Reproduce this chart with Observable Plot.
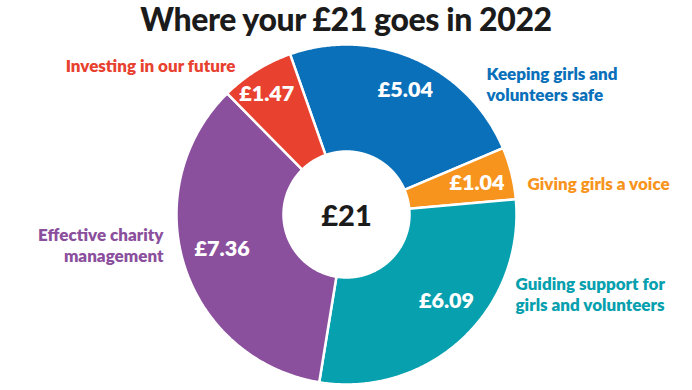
<!DOCTYPE html>
<html><head><meta charset="utf-8">
<script src="https://cdn.jsdelivr.net/npm/d3@7"></script>
<script src="https://cdn.jsdelivr.net/npm/@observablehq/plot@0.6"></script>
<style>
body{margin:0;background:#fff;font-family:Lato,"Open Sans",sans-serif;}
#title{height:38px;text-align:center;font-weight:900;font-size:32px;line-height:38px;color:#1b1b1b;letter-spacing:-0.4px;white-space:nowrap;}
#chart svg{display:block;}
</style></head><body>
<div id="title"></div>
<div id="chart"></div>
<script>
// ---- data ----
const titleText = "Where your £21 goes in 2022";
const categories = ["Keeping girls and\nvolunteers safe", "Giving girls a voice", "Guiding support for\ngirls and volunteers", "Effective charity\nmanagement", "Investing in our future"];
const values = [5.04, 1.04, 6.09, 7.36, 1.47];
const valueLabels = ["£5.04", "£1.04", "£6.09", "£7.36", "£1.47"];
const colors = ["#0a70ba", "#f7941d", "#06a0ae", "#8b509d", "#e8412f"];
const totalLabel = "£21";

// ---- layout ----
const W = 692, H = 352;
const cx = 346, cy = 176, R = 170, r0 = 63;
const startAngle = -19.4 * Math.PI / 180;
const valueRadius = [0.81, 0.79, 0.78, 0.76, 0.85];
const valueAngleShift = [1.5, 0.5, -6, 2, -1.5]; // degrees
// category label offsets relative to centre [dx, dy, anchor]
const catLayout = [[140, -131, "start"], [181, -31, "start"], [169, 79, "start"], [-183, 30, "end"], [-196, -149, "middle"]];

document.getElementById("title").textContent = titleText;

const arcs = d3.pie().sort(null).startAngle(startAngle).endAngle(startAngle + 2 * Math.PI)(values);
const pt = (a, rad) => [cx + rad * Math.sin(a), cy - rad * Math.cos(a)];

const poly = [];
arcs.forEach((d, i) => {
  const n = Math.max(2, Math.ceil((d.endAngle - d.startAngle) / (Math.PI / 360)));
  const pts = [];
  for (let k = 0; k <= n; k++) pts.push(pt(d.startAngle + (d.endAngle - d.startAngle) * k / n, R));
  for (let k = n; k >= 0; k--) pts.push(pt(d.startAngle + (d.endAngle - d.startAngle) * k / n, r0));
  pts.push(pts[0]);
  pts.forEach(([x, y]) => poly.push({cat: categories[i], x, y}));
});

const valuePos = arcs.map((d, i) => {
  const a = (d.startAngle + d.endAngle) / 2 + valueAngleShift[i] * Math.PI / 180;
  const [x, y] = pt(a, R * valueRadius[i]);
  return {x, y, label: valueLabels[i]};
});
const catPos = categories.map((c, i) => ({x: cx + catLayout[i][0], y: cy + catLayout[i][1], text: c, anchor: catLayout[i][2], color: colors[i]}));

const chart = Plot.plot({
  width: W, height: H, margin: 0,
  x: {domain: [0, W], range: [0, W], axis: null},
  y: {domain: [0, H], range: [0, H], axis: null},
  color: {domain: categories, range: colors},
  style: {fontFamily: "Lato, 'Open Sans', sans-serif", background: "white"},
  marks: [
    Plot.line(poly, {x: "x", y: "y", z: "cat", fill: "cat", stroke: "white", strokeWidth: 2.5, strokeLinejoin: "round"}),
    Plot.text(valuePos, {x: "x", y: "y", text: "label", fill: "white", fontSize: 21.5, fontWeight: 800}),
    Plot.text([totalLabel], {x: [cx], y: [cy + 2], text: d => d, fill: "#1b1b1b", fontSize: 29, fontWeight: 900}),
    ...["start", "middle", "end"].map(anc => Plot.text(catPos.filter(d => d.anchor === anc), {x: "x", y: "y", text: "text", fill: "color", textAnchor: anc, fontSize: 17, fontWeight: 800, lineHeight: 1.28}))
  ]
});
document.getElementById("chart").appendChild(chart);
</script>
</body></html>
